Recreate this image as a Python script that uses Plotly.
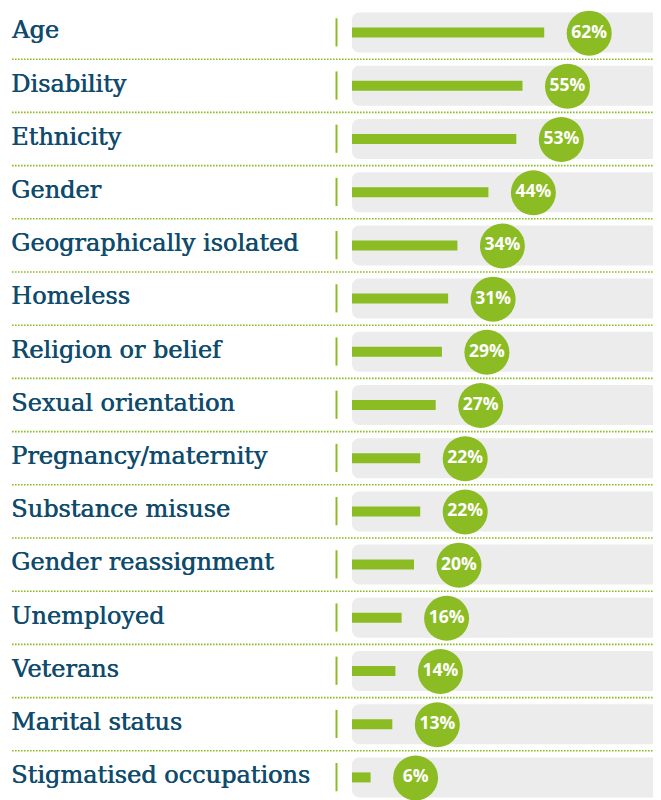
import plotly.graph_objects as go

categories = ["Age", "Disability", "Ethnicity", "Gender", "Geographically isolated",
              "Homeless", "Religion or belief", "Sexual orientation", "Pregnancy/maternity",
              "Substance misuse", "Gender reassignment", "Unemployed", "Veterans",
              "Marital status", "Stigmatised occupations"]
values = [62, 55, 53, 44, 34, 31, 29, 27, 22, 22, 20, 16, 14, 13, 6]
labels = [f"{v}%" for v in values]

GREEN = "#8bbc24"
GREY = "#ececec"
TEAL = "#0e4b6c"

PAGE_OFF = 8          # browser body margin
W, H = 661 - PAGE_OFF, 792
PX_PER_UNIT = 3.1     # pixels per percentage point
X0_PX = 352 - PAGE_OFF
ROW = 53.2
ROW0 = 32.6 - PAGE_OFF
TRACK_END = (661 - PAGE_OFF - X0_PX) / PX_PER_UNIT - 0.1
MID = TRACK_END / 2

n = len(categories)
ys = list(range(n))
xr = [-X0_PX / PX_PER_UNIT, (W - X0_PX) / PX_PER_UNIT]
yr = [(H - ROW0) / ROW, -ROW0 / ROW]

fig = go.Figure()
# grey tracks, rounded at both ends (two overlapping halves growing from the middle)
fig.add_trace(go.Bar(x=[TRACK_END - MID + 2] * n, y=ys, base=[MID - 2] * n, orientation="h",
                     width=40 / ROW, marker=dict(color=GREY, cornerradius=7, line=dict(width=0)),
                     hoverinfo="skip", showlegend=False))
fig.add_trace(go.Bar(x=[-MID - 2] * n, y=ys, base=[MID + 2] * n, orientation="h", width=40 / ROW,
                     marker=dict(color=GREY, cornerradius=7, line=dict(width=0)),
                     hoverinfo="skip", showlegend=False))
fig.add_trace(go.Bar(x=values, y=ys, orientation="h", width=10 / ROW,
                     marker=dict(color=GREEN, line=dict(width=0)),
                     hoverinfo="skip", showlegend=False))
offset = 45 / PX_PER_UNIT
fig.add_trace(go.Scatter(x=[v + offset for v in values], y=[y + 0.01 for y in ys],
                         mode="markers+text", text=labels, textposition="middle center",
                         marker=dict(size=45, color=GREEN, line=dict(width=0)),
                         textfont=dict(color="white", size=17.5, family="Open Sans", weight="bold"),
                         hoverinfo="skip", showlegend=False, cliponaxis=False))

shapes = []
xv = (336.5 - PAGE_OFF - X0_PX) / PX_PER_UNIT
for i in ys:
    shapes.append(dict(type="line", xref="paper", yref="y", x0=(12 - PAGE_OFF) / W, x1=1,
                       y0=i - 0.5, y1=i - 0.5,
                       line=dict(color=GREEN, width=1.6, dash="1.6px,1.4px"), layer="below"))
    shapes.append(dict(type="line", xref="x", yref="y", x0=xv, x1=xv, y0=i - 0.27, y1=i + 0.26,
                       line=dict(color=GREEN, width=2)))

annotations = [dict(xref="paper", yref="y", x=1 / W, y=i - 0.04, text=c, showarrow=False,
                    xanchor="left", yanchor="middle",
                    font=dict(family="DejaVu Serif", size=24, color=TEAL,
                              shadow=f"0.6px 0px 0px {TEAL}"))
               for i, c in enumerate(categories)]

fig.update_layout(width=W, height=H, margin=dict(l=0, r=0, t=0, b=0),
                  paper_bgcolor="white", plot_bgcolor="white", barmode="overlay",
                  xaxis=dict(range=xr, visible=False, fixedrange=True),
                  yaxis=dict(range=yr, visible=False, fixedrange=True),
                  shapes=shapes, annotations=annotations)

fig.write_html("out.html")
